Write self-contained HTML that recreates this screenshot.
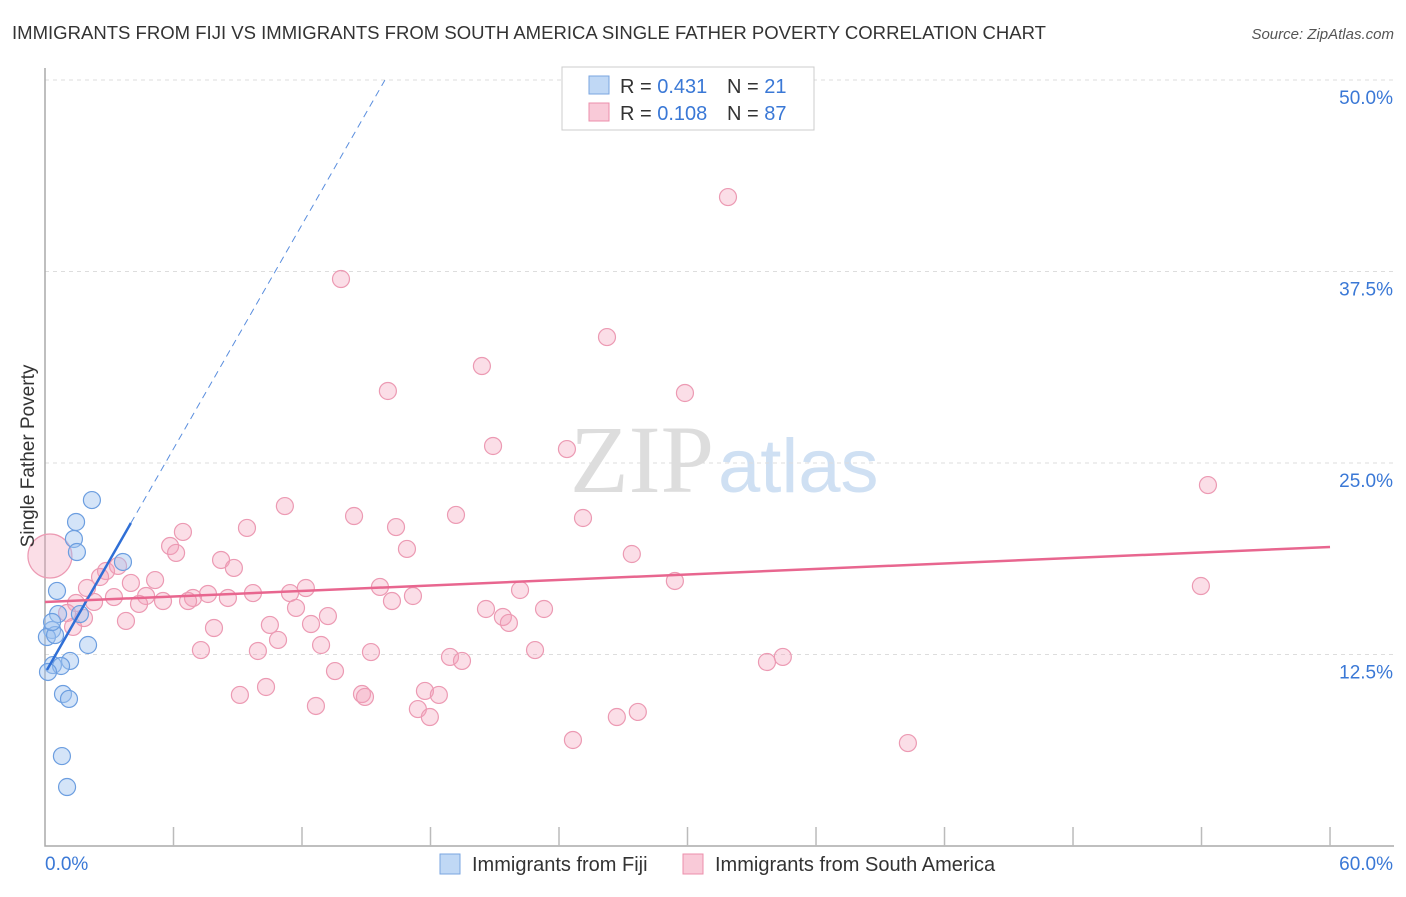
<!DOCTYPE html>
<html><head><meta charset="utf-8"><style>
body{margin:0;background:#fff;font-family:"Liberation Sans",sans-serif;}
svg text{font-family:"Liberation Sans",sans-serif;}
</style></head><body>
<svg width="1406" height="892" viewBox="0 0 1406 892">
<text x="12" y="39" font-size="18" fill="#333" textLength="1034" lengthAdjust="spacingAndGlyphs">IMMIGRANTS FROM FIJI VS IMMIGRANTS FROM SOUTH AMERICA SINGLE FATHER POVERTY CORRELATION CHART</text>
<text x="1394" y="39" font-size="15" fill="#555" font-style="italic" text-anchor="end">Source: ZipAtlas.com</text>
<text x="714" y="492" font-size="96" fill="#ddd" text-anchor="end" style="font-family:'Liberation Serif',serif">ZIP</text>
<text x="718" y="492" font-size="76" fill="#cfe0f3">atlas</text>
<g id="grid"></g>
<g id="axes"></g>
<g id="marks"></g>
<text transform="translate(34,456) rotate(-90)" font-size="19" fill="#333" text-anchor="middle">Single Father Poverty</text>
<text x="45" y="870" font-size="19" fill="#3a78d6">0.0%</text>
<text x="1393" y="870" font-size="19" fill="#3a78d6" text-anchor="end">60.0%</text>
<g>
<rect x="562" y="67" width="252" height="63" fill="#fff" stroke="#ccc"/>
<rect x="589" y="76" width="20" height="18" fill="#c0d8f5" stroke="#7aa6e0"/>
<rect x="589" y="103" width="20" height="18" fill="#f9cad8" stroke="#ec8fab"/>
<text x="620" y="93" font-size="20" fill="#333">R = <tspan fill="#3a78d6">0.431</tspan>  <tspan x="727">N = </tspan><tspan fill="#3a78d6">21</tspan></text>
<text x="620" y="120" font-size="20" fill="#333">R = <tspan fill="#3a78d6">0.108</tspan>  <tspan x="727">N = </tspan><tspan fill="#3a78d6">87</tspan></text>
</g>
<g>
<rect x="440" y="854" width="20" height="20" fill="#c0d8f5" stroke="#7aa6e0"/>
<text x="472" y="871" font-size="20" fill="#333">Immigrants from Fiji</text>
<rect x="683" y="854" width="20" height="20" fill="#f9cad8" stroke="#ec8fab"/>
<text x="715" y="871" font-size="20" fill="#333">Immigrants from South America</text>
</g>
</svg>
<script>
const yTicks=[12.5,25,37.5,50];
const yTickLabels=["12.5%","25.0%","37.5%","50.0%"];
const fijiX=[2.19,1.45,1.35,1.49,3.64,0.56,1.63,0.61,0.33,0.09,0.47,0.33,2.01,1.17,0.37,0.75,0.14,0.84,1.12,0.79,1.03];
const fijiY=[22.58,21.15,20.04,19.19,18.54,16.65,15.14,15.14,14.10,13.64,13.77,14.62,13.12,12.08,11.81,11.75,11.36,9.92,9.60,5.87,3.85];
const saX=[31.89,13.82,26.24,20.40,16.01,29.88,20.92,24.37,54.30,11.20,19.19,14.43,25.12,16.39,9.43,6.44,16.90,27.40,5.84,6.12,8.22,8.82,3.41,2.85,2.57,5.14,4.01,1.96,15.64,12.18,11.44,22.18,29.41,53.97,9.71,7.61,6.91,8.54,4.72,3.22,5.51,6.68,4.39,2.29,1.45,16.20,17.18,20.59,11.72,23.30,1.03,13.21,21.38,21.66,3.78,12.42,10.50,7.89,1.82,1.31,10.88,12.89,7.28,9.94,15.22,22.88,18.91,19.47,34.45,33.71,13.54,10.32,9.10,14.80,14.94,17.74,18.39,12.65,17.41,17.97,26.70,27.68,24.65,40.29,0.23];
const saY=[42.36,37.01,33.22,31.33,29.70,29.57,26.11,25.91,23.56,22.19,21.61,21.54,21.41,20.82,20.76,20.50,19.39,19.06,19.58,19.13,18.67,18.15,18.28,17.95,17.56,17.36,17.17,16.84,16.91,16.84,16.51,16.71,17.30,16.97,16.51,16.45,16.19,16.19,16.32,16.25,15.99,15.99,15.80,15.93,15.86,15.99,16.32,15.47,15.54,15.47,15.21,15.01,14.95,14.56,14.69,14.49,14.43,14.23,14.88,14.30,13.45,13.12,12.79,12.73,12.66,12.79,12.34,12.08,12.34,12.01,11.42,10.38,9.86,9.92,9.73,10.12,9.86,9.14,8.94,8.42,8.42,8.75,6.92,6.72,18.93];
const fijiTrend=[0.09,11.49,4.01,21.08,15.87,49.99];
const saTrend=[0,15.93,60,19.52];
const NS="http://www.w3.org/2000/svg";
function X(v){return 45+v*21.417;}
function Y(v){return 846-v*15.32;}
function mk(t,a,p){const e=document.createElementNS(NS,t);for(const k in a)e.setAttribute(k,a[k]);p.appendChild(e);return e;}
const grid=document.getElementById('grid'),axes=document.getElementById('axes'),marks=document.getElementById('marks');
yTicks.forEach((t,i)=>{
 const l=mk('line',{x1:45,x2:1394,y1:Y(t),y2:Y(t),stroke:'#ddd','stroke-dasharray':'4,4'},grid);
 
 
 const tx=mk('text',{x:1393,y:Y(t)+24,'font-size':19,fill:'#3a78d6','text-anchor':'end'},axes);
 tx.textContent=yTickLabels[i];
 
 
});
const ax=mk('path',{d:'M45,68V846H1394',fill:'none',stroke:'#aaa','stroke-width':1.5},axes);


for(let i=1;i<=10;i++){
 const t=mk('line',{x1:X(i*6),x2:X(i*6),y1:827,y2:846,stroke:'#bbb','stroke-width':1.5},axes);
 
 
}
saX.forEach((x,i)=>{
 const c=mk('circle',{cx:X(x),cy:Y(saY[i]),r:i==saX.length-1?22:8.5,fill:'rgba(244,160,186,0.35)',stroke:'#ec9ab3','stroke-width':1.2},marks);
 
 
});
fijiX.forEach((x,i)=>{
 const c=mk('circle',{cx:X(x),cy:Y(fijiY[i]),r:8.5,fill:'rgba(160,196,240,0.45)',stroke:'#6c9ee0','stroke-width':1.2},marks);
 
 
});
let l=mk('line',{x1:X(fijiTrend[2]),y1:Y(fijiTrend[3]),x2:X(fijiTrend[4]),y2:Y(fijiTrend[5]),stroke:'#5a8ede','stroke-width':1,'stroke-dasharray':'7,5'},marks);


l=mk('line',{x1:X(fijiTrend[0]),y1:Y(fijiTrend[1]),x2:X(fijiTrend[2]),y2:Y(fijiTrend[3]),stroke:'#2f6fd6','stroke-width':2.5},marks);


l=mk('line',{x1:X(saTrend[0]),y1:Y(saTrend[1]),x2:X(saTrend[2]),y2:Y(saTrend[3]),stroke:'#e8668f','stroke-width':2.5},marks);


</script>
</body></html>
